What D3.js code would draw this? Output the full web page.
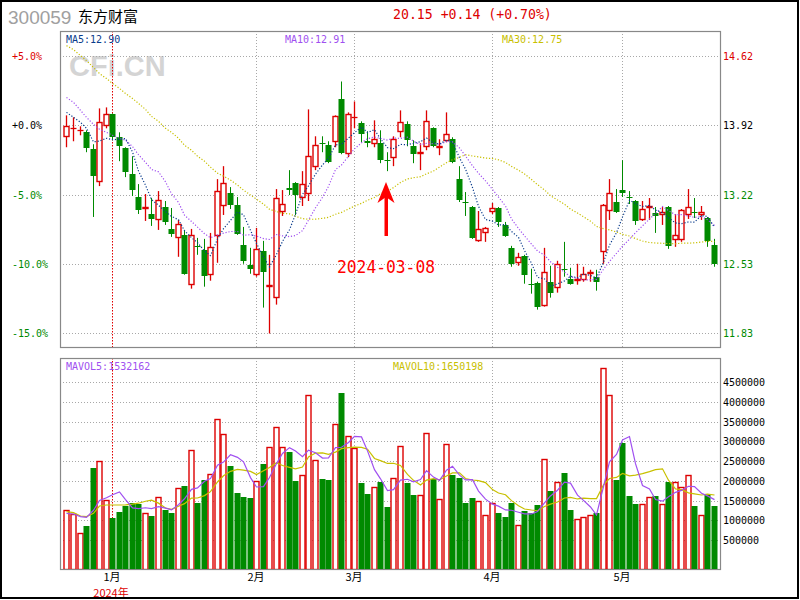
<!DOCTYPE html>
<html><head><meta charset="utf-8">
<script src="https://cdn.jsdelivr.net/npm/d3@7"></script>
<style>body{margin:0;background:#fff}svg{display:block}</style>
</head><body>
<svg id="c" width="800" height="600"></svg>
<script>
// ---------- DATA ----------
const dates = [
"2023-12-21","2023-12-22","2023-12-25","2023-12-26","2023-12-27","2023-12-28","2023-12-29",
"2024-01-02","2024-01-03","2024-01-04","2024-01-05","2024-01-08","2024-01-09","2024-01-10","2024-01-11","2024-01-12",
"2024-01-15","2024-01-16","2024-01-17","2024-01-18","2024-01-19","2024-01-22","2024-01-23","2024-01-24","2024-01-25",
"2024-01-26","2024-01-29","2024-01-30","2024-01-31",
"2024-02-01","2024-02-02","2024-02-05","2024-02-06","2024-02-07","2024-02-08","2024-02-19","2024-02-20","2024-02-21",
"2024-02-22","2024-02-23","2024-02-26","2024-02-27","2024-02-28","2024-02-29",
"2024-03-01","2024-03-04","2024-03-05","2024-03-06","2024-03-07","2024-03-08","2024-03-11","2024-03-12","2024-03-13",
"2024-03-14","2024-03-15","2024-03-18","2024-03-19","2024-03-20","2024-03-21","2024-03-22","2024-03-25","2024-03-26",
"2024-03-27","2024-03-28","2024-03-29",
"2024-04-01","2024-04-02","2024-04-03","2024-04-08","2024-04-09","2024-04-10","2024-04-11","2024-04-12","2024-04-15",
"2024-04-16","2024-04-17","2024-04-18","2024-04-19","2024-04-22","2024-04-23","2024-04-24","2024-04-25","2024-04-26",
"2024-04-29","2024-04-30",
"2024-05-06","2024-05-07","2024-05-08","2024-05-09","2024-05-10","2024-05-13","2024-05-14","2024-05-15","2024-05-16",
"2024-05-17","2024-05-20","2024-05-21","2024-05-22","2024-05-23","2024-05-24"];

const open = [13.80,13.88,13.86,13.85,13.68,13.35,13.91,14.03,13.80,13.69,
13.43,13.20,13.08,13.03,12.97,13.10,12.88,12.79,12.82,12.32,
12.71,12.67,12.42,12.81,13.11,13.24,13.12,12.72,12.52,12.42,
12.66,12.30,12.19,13.05,13.29,13.34,13.19,13.23,13.50,13.74,
13.72,13.75,14.18,13.63,13.99,13.94,13.76,13.73,13.74,13.57,
13.59,13.85,13.93,13.71,13.63,13.70,13.89,13.69,13.76,13.78,
13.38,13.15,13.10,12.76,12.84,13.05,13.09,12.92,12.69,12.54,
12.61,12.33,12.34,12.11,12.35,12.29,12.48,12.38,12.36,12.37,
12.43,12.40,12.65,13.06,13.15,13.27,13.20,13.16,12.97,13.09,
13.04,13.02,13.10,12.77,12.77,13.02,13.05,13.02,12.99,12.72];

const high = [14.02,14.00,13.91,13.87,13.73,14.09,14.10,14.04,13.85,13.70,
13.61,13.33,13.23,13.19,13.26,13.16,13.09,12.97,12.87,12.88,
12.79,12.78,12.84,13.38,13.51,13.30,13.20,12.90,12.69,12.89,
12.76,12.62,13.28,13.27,13.47,13.35,13.46,14.08,13.81,13.81,
13.76,14.02,14.36,14.05,14.16,13.96,13.86,13.97,13.87,13.65,
13.81,14.07,13.96,13.77,13.74,14.07,13.90,13.78,14.05,13.80,
13.51,13.25,13.11,13.06,12.90,13.14,13.10,12.95,12.71,12.64,
12.62,12.48,12.35,12.69,12.51,12.56,12.75,12.49,12.53,12.50,
12.47,12.47,13.13,13.38,13.28,13.57,13.26,13.17,13.16,13.19,
13.10,13.10,13.11,13.03,13.08,13.28,13.19,13.11,13.00,12.78];

const low = [13.70,13.76,13.82,13.65,13.00,13.31,13.89,13.77,13.56,13.40,
13.21,13.03,12.96,12.91,12.87,12.92,12.80,12.60,12.42,12.28,
12.62,12.30,12.36,12.54,13.02,13.08,12.82,12.53,12.43,12.40,
12.09,11.83,12.12,13.01,13.22,13.02,13.11,13.16,13.47,13.65,
13.54,13.70,13.63,13.60,13.89,13.75,13.70,13.70,13.54,13.46,
13.51,13.80,13.71,13.54,13.47,13.67,13.70,13.62,13.75,13.54,
13.15,13.01,12.78,12.75,12.75,13.03,12.90,12.80,12.50,12.51,
12.33,12.23,12.07,12.10,12.19,12.24,12.40,12.32,12.32,12.35,
12.35,12.26,12.53,12.97,13.04,13.20,13.13,12.92,12.96,12.97,
12.84,12.92,12.68,12.70,12.75,12.98,12.99,12.97,12.70,12.50];

const close = [13.91,13.89,13.87,13.69,13.41,13.95,14.03,13.80,13.71,13.45,
13.27,13.07,13.10,12.98,13.17,12.95,12.83,12.93,12.43,12.82,
12.70,12.41,12.70,13.26,13.34,13.12,12.83,12.56,12.48,12.68,
12.45,12.32,13.19,13.13,13.27,13.22,13.33,13.61,13.72,13.73,
13.55,14.01,13.64,14.03,14.00,13.83,13.74,13.78,13.57,13.56,
13.78,13.95,13.77,13.63,13.65,13.96,13.71,13.71,13.83,13.55,
13.17,13.14,12.79,12.88,12.89,13.09,12.95,12.81,12.53,12.60,
12.42,12.32,12.10,12.45,12.24,12.53,12.47,12.33,12.38,12.43,
12.45,12.35,13.12,13.24,13.05,13.24,13.19,12.96,13.08,13.11,
13.01,13.05,12.71,12.82,13.07,13.10,13.04,13.05,12.76,12.53];

const volume = [1252000,1159000,678000,855000,2326000,2495000,1506000,1058000,1210000,1362000,
1430000,1413000,1176000,1109000,1591000,1261000,1185000,1819000,1870000,2783000,
1447000,2022000,2174000,3561000,3180000,2377000,1692000,1599000,1565000,1988000,
2428000,2850000,3358000,2850000,2732000,1997000,2140000,4178000,2529000,2047000,
2022000,3434000,4229000,3130000,2834000,1946000,1667000,1844000,1971000,1337000,
2073000,2876000,1946000,1641000,1633000,3206000,2047000,1532000,2927000,2149000,
2073000,1439000,1565000,1481000,1126000,1439000,1185000,1083000,1439000,872000,
1236000,1176000,1388000,2546000,1743000,1963000,2200000,1261000,1024000,1075000,
1126000,1185000,4854000,4169000,2022000,2960000,1616000,1413000,1405000,1591000,
1616000,1405000,1971000,1963000,1836000,2140000,1362000,1126000,1633000,1362000];

// moving-average values at the start of the window (they depend on sessions before the first candle)
const ma5Head  = [14.05,14.00,13.95,13.89];
const ma10Head = [14.20,14.15,14.07,14.00,13.93,13.88,13.85,13.82,13.79];
const ma30Head = [14.72,14.68,14.62,14.57,14.50,14.44,14.39,14.34,14.29,14.24,14.19,14.14,14.08,14.01,13.96,
                  13.89,13.85,13.79,13.72,13.67,13.61,13.56,13.50,13.44,13.41,13.37,13.32,13.27,13.22];
const mavol5Head  = [1176000,1159000,1092000,1075000];
const mavol10Head = [1219000,1193000,1109000,1092000,1176000,1362000,1388000,1388000,1388000];

const basePrice = 13.92;
const pctTicks = [5, 0, -5, -10, -15];
const pctLabels = ["+5.0%","+0.0%","-5.0%","-10.0%","-15.0%"];
const priceLabels = ["14.62","13.92","13.22","12.53","11.83"];
const volTicks = [4500000,4000000,3500000,3000000,2500000,2000000,1500000,1000000,500000];
const monthLabels = ["1月","2月","3月","4月","5月"];
const monthKeys = ["2024-01","2024-02","2024-03","2024-04","2024-05"];
const yearLabel = "2024年";
const markDate = "2024-03-08";

// ---------- DRAW ----------
const svg = d3.select('#c');
const PL=60, PR=720, PT=31, PB=347, VT=358, VB=569;
const RED='#dd0000', GREEN='#008a00';
const MONO="'DejaVu Sans Mono', monospace";
const CJK="'Noto Sans CJK SC', sans-serif";
const n = dates.length;

const x = d3.scaleBand().domain(d3.range(n)).range([63.2, 717.2]);
const cx = i => Math.round(x(i) + x.bandwidth()/2);
const y = d3.scaleLinear().domain([basePrice*0.85, basePrice*1.05]).range([333.3, 56]);
const vy = d3.scaleLinear().domain([500000, 4500000]).range([540, 382.3]);

function movAvg(vals, k, head){
  return vals.map((v,i)=> i < k-1 ? head[i] : d3.mean(vals.slice(i-k+1, i+1)));
}
const ma5 = movAvg(close,5,ma5Head), ma10 = movAvg(close,10,ma10Head), ma30 = movAvg(close,30,ma30Head);
const mv5 = movAvg(volume,5,mavol5Head), mv10 = movAvg(volume,10,mavol10Head);

svg.append('rect').attr('x',0).attr('y',0).attr('width',800).attr('height',600).attr('fill','#fff');

const defs = svg.append('defs');
defs.append('clipPath').attr('id','cp').append('rect').attr('x',PL).attr('y',PT).attr('width',PR-PL).attr('height',PB-PT);
defs.append('clipPath').attr('id','cv').append('rect').attr('x',PL).attr('y',VT).attr('width',PR-PL).attr('height',VB-VT);

// header
svg.append('text').attr('x',8).attr('y',24).attr('fill','#a0a0a0')
  .style('font-family',"'Liberation Sans', Arial, sans-serif").style('font-size','19px').text('300059');
svg.append('text').attr('x',78).attr('y',22).attr('fill','#000')
  .style('font-family',CJK).style('font-size','15px').text('东方财富');
svg.append('text').attr('x',393).attr('y',19).attr('fill',RED)
  .style('font-family',MONO).style('font-size','13.2px').text('20.15 +0.14 (+0.70%)');

// watermark
svg.append('text').attr('x',69).attr('y',76).attr('fill','#d4d4d4')
  .style('font-family',"'Liberation Sans', Arial, sans-serif").style('font-weight','bold').style('font-size','29px').text('CFi.CN');

const monthIdx = monthKeys.map(k => dates.findIndex(d => d.startsWith(k)));

// grids
function hgrid(yy){
  svg.append('line').attr('x1',PL).attr('x2',PR).attr('y1',Math.round(yy)+0.5).attr('y2',Math.round(yy)+0.5)
    .attr('stroke','#a8a8a8').attr('stroke-dasharray','1,2');
}
pctTicks.forEach(p => hgrid(y(basePrice*(1+p/100))));
volTicks.forEach(v => hgrid(vy(v)));
monthIdx.forEach((mi,k)=>{
  [[PT,PB],[VT,VB]].forEach(([a,b])=>{
    svg.append('line').attr('x1',cx(mi)+0.5).attr('x2',cx(mi)+0.5).attr('y1',a).attr('y2',b)
      .attr('stroke', k===0 ? '#e00000' : '#a8a8a8').attr('stroke-dasharray', k===0 ? '1.5,1.5' : '1,2');
  });
});

// panel borders
[[PT,PB],[VT,VB]].forEach(([a,b])=>{
  svg.append('rect').attr('x',PL+0.5).attr('y',a+0.5).attr('width',PR-PL).attr('height',b-a)
    .attr('fill','none').attr('stroke','#888').attr('stroke-width',1.2);
});

// axis labels price
pctTicks.forEach((p,k)=>{
  const yy = y(basePrice*(1+p/100));
  const col = p>0 ? RED : (p===0 ? '#000' : GREEN);
  svg.append('text').attr('x',12).attr('y',yy+4).attr('fill',col)
    .style('font-family',MONO).style('font-size','10px').text(pctLabels[k]);
  svg.append('text').attr('x',723).attr('y',yy+4).attr('fill',col)
    .style('font-family',MONO).style('font-size','10px').text(priceLabels[k]);
});
volTicks.forEach(v=>{
  svg.append('text').attr('x',723).attr('y',vy(v)+4).attr('fill','#000')
    .style('font-family',MONO).style('font-size','10px').text(String(v));
});

// month labels
monthIdx.forEach((mi,k)=>{
  svg.append('text').attr('x',cx(mi)).attr('y',580.5).attr('text-anchor','middle').attr('fill','#000')
    .style('font-family',CJK).style('font-size','11px').text(monthLabels[k]);
});
svg.append('text').attr('x',cx(monthIdx[0])-1).attr('y',597).attr('text-anchor','middle').attr('fill',RED)
  .style('font-family',CJK).style('font-size','11px').text(yearLabel);

// MA legend
const legend = [["MA5:12.90",66,'#0a3c8c'],["MA10:12.91",285,'#a050f0'],["MA30:12.75",502,'#c8c000']];
legend.forEach(([t,xx,c])=>{
  svg.append('text').attr('x',xx).attr('y',43).attr('fill',c).style('font-family',MONO).style('font-size','10px').text(t);
});
svg.append('text').attr('x',66).attr('y',370).attr('fill','#a050f0').style('font-family',MONO).style('font-size','10px').text('MAVOL5:1532162');
svg.append('text').attr('x',393).attr('y',370).attr('fill','#c8c000').style('font-family',MONO).style('font-size','10px').text('MAVOL10:1650198');

// candles
const gC = svg.append('g').attr('clip-path','url(#cp)');
d3.range(n).forEach(i=>{
  const X = cx(i);
  const up = close[i] >= open[i];
  const col = up ? RED : GREEN;
  const top = y(Math.max(open[i],close[i])), bot = y(Math.min(open[i],close[i]));
  const yh = y(high[i]), yl = y(low[i]);
  if (up){
    const t = Math.round(top), b = Math.max(Math.round(bot), t+1);
    if (b - t <= 1){
      gC.append('line').attr('x1',X+0.5).attr('x2',X+0.5).attr('y1',yh).attr('y2',yl).attr('stroke',col).attr('stroke-width',1.3);
      gC.append('line').attr('x1',X-2.5).attr('x2',X+3.5).attr('y1',t+0.5).attr('y2',t+0.5).attr('stroke',col).attr('stroke-width',1.3);
    } else {
      gC.append('line').attr('x1',X+0.5).attr('x2',X+0.5).attr('y1',yh).attr('y2',t).attr('stroke',col).attr('stroke-width',1.3);
      gC.append('line').attr('x1',X+0.5).attr('x2',X+0.5).attr('y1',b).attr('y2',yl).attr('stroke',col).attr('stroke-width',1.3);
      gC.append('rect').attr('x',X-2).attr('y',t+0.5).attr('width',5).attr('height',b-t-1+0.01)
        .attr('fill','#fff').attr('stroke',col).attr('stroke-width',1.4);
    }
  } else {
    gC.append('line').attr('x1',X+0.5).attr('x2',X+0.5).attr('y1',yh).attr('y2',yl).attr('stroke',col).attr('stroke-width',1);
    const t = Math.round(top), h = Math.max(1, Math.round(bot)-t);
    gC.append('rect').attr('x',X-2.5).attr('y',t).attr('width',6).attr('height',h).attr('fill',col);
  }
});

// MA lines
const maLine = d3.line().x((d,i)=>cx(i)+0.5).y(d=>y(d));
[[ma30,'#c8c000'],[ma10,'#a050f0'],[ma5,'#0a3c8c']].forEach(([arr,c])=>{
  gC.append('path').attr('d',maLine(arr)).attr('fill','none').attr('stroke',c)
    .attr('stroke-width',1.2).attr('stroke-dasharray','1.2,1.8');
});

// annotation arrow + date
const mi = dates.indexOf(markDate);
const ax = cx(mi) - 1;
svg.append('rect').attr('x',ax-1.5).attr('y',197).attr('width',3.5).attr('height',39).attr('fill','#f00');
svg.append('path').attr('d',`M${ax},182 L${ax+8.5},203 L${ax},197 L${ax-8.5},203 Z`).attr('fill','#f00');
svg.append('text').attr('x',ax).attr('y',272.5).attr('text-anchor','middle').attr('fill','#f00')
  .attr('textLength',98).attr('lengthAdjust','spacingAndGlyphs')
  .style('font-family',MONO).style('font-size','18px').text(markDate);

// volume bars
const gV = svg.append('g').attr('clip-path','url(#cv)');
d3.range(n).forEach(i=>{
  const X = cx(i);
  const up = close[i] >= open[i];
  const t = Math.round(vy(volume[i]));
  if (up){
    gV.append('rect').attr('x',X-2).attr('y',t+0.5).attr('width',5).attr('height',VB-t)
      .attr('fill','#fff').attr('stroke',RED).attr('stroke-width',1.4);
  } else {
    gV.append('rect').attr('x',X-2.5).attr('y',t).attr('width',6).attr('height',VB-t).attr('fill',GREEN);
  }
});
const vLine = d3.line().x((d,i)=>cx(i)+0.5).y(d=>vy(d));
gV.append('path').attr('d',vLine(mv10)).attr('fill','none').attr('stroke','#c8c000').attr('stroke-width',1.2);
gV.append('path').attr('d',vLine(mv5)).attr('fill','none').attr('stroke','#a050f0').attr('stroke-width',1.2);

// outer frame
svg.append('rect').attr('x',1).attr('y',1).attr('width',797).attr('height',597).attr('fill','none').attr('stroke','#000').attr('stroke-width',2);
</script>
</body></html>
